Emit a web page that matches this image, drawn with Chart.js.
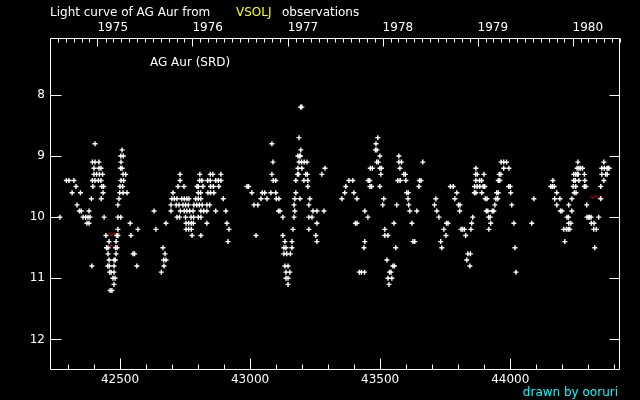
<!DOCTYPE html>
<html>
<head>
<meta charset="utf-8">
<script src="https://cdn.jsdelivr.net/npm/chart.js@4.4.0/dist/chart.umd.min.js"></script>
<style>
  html, body { margin: 0; padding: 0; background: #000; }
  #wrap { width: 640px; height: 400px; position: relative; }
</style>
</head>
<body>
<div id="wrap"><canvas id="lc"></canvas></div>
<script>
// observations: [JD - 2400000, visual magnitude]
const season1 = [
  [42404, 8.8],
  [42508, 8.9],
  [42503, 9.0], [42513, 9.0],
  [42394, 9.1], [42404, 9.1], [42419, 9.1], [42504, 9.1],
  [42400, 9.2], [42419, 9.2], [42427, 9.2], [42502, 9.2], [42508, 9.2],
  [42400, 9.3], [42410, 9.3], [42421, 9.3], [42433, 9.3], [42512, 9.3], [42522, 9.3],
  [42294, 9.4], [42304, 9.4], [42323, 9.4], [42394, 9.4], [42404, 9.4], [42417, 9.4], [42427, 9.4], [42504, 9.4], [42514, 9.4],
  [42331, 9.5], [42396, 9.5], [42430, 9.5], [42437, 9.5], [42500, 9.5], [42510, 9.5],
  [42316, 9.6], [42348, 9.6], [42435, 9.6], [42499, 9.6], [42512, 9.6], [42527, 9.6],
  [42390, 9.7], [42428, 9.7], [42496, 9.7],
  [42335, 9.8], [42492, 9.8],
  [42344, 9.9], [42351, 9.9], [42381, 9.9],
  [42269, 10.0], [42358, 10.0], [42368, 10.0], [42377, 10.0], [42385, 10.0], [42439, 10.0], [42492, 10.0], [42503, 10.0],
  [42373, 10.1], [42381, 10.1], [42539, 10.1],
  [42492, 10.2], [42569, 10.2],
  [42446, 10.3], [42488, 10.3], [42492, 10.3], [42542, 10.3],
  [42458, 10.4], [42485, 10.4],
  [42448, 10.5], [42454, 10.5], [42483, 10.5], [42489, 10.5],
  [42454, 10.6], [42485, 10.6], [42550, 10.6], [42556, 10.6],
  [42458, 10.7], [42477, 10.7], [42482, 10.7],
  [42392, 10.8], [42453, 10.8], [42459, 10.8], [42477, 10.8], [42565, 10.8],
  [42460, 10.9], [42466, 10.9], [42477, 10.9],
  [42473, 11.0], [42481, 11.0],
  [42477, 11.1],
  [42462, 11.2], [42469, 11.2]
];
const season2 = [
  [42731, 9.3], [42807, 9.3], [42847, 9.3], [42857, 9.3], [42888, 9.3],
  [42731, 9.4], [42806, 9.4], [42815, 9.4], [42837, 9.4], [42847, 9.4], [42868, 9.4], [42878, 9.4], [42888, 9.4],
  [42723, 9.5], [42746, 9.5], [42796, 9.5], [42801, 9.5], [42819, 9.5], [42848, 9.5], [42859, 9.5], [42880, 9.5],
  [42704, 9.6], [42801, 9.6], [42810, 9.6], [42838, 9.6], [42848, 9.6], [42861, 9.6],
  [42699, 9.7], [42709, 9.7], [42719, 9.7], [42737, 9.7], [42747, 9.7], [42757, 9.7], [42765, 9.7], [42791, 9.7], [42801, 9.7], [42811, 9.7], [42897, 9.7],
  [42696, 9.8], [42716, 9.8], [42727, 9.8], [42742, 9.8], [42752, 9.8], [42763, 9.8], [42784, 9.8], [42795, 9.8], [42805, 9.8], [42816, 9.8], [42834, 9.8], [42845, 9.8],
  [42631, 9.9], [42696, 9.9], [42732, 9.9], [42747, 9.9], [42757, 9.9], [42768, 9.9], [42781, 9.9], [42811, 9.9], [42822, 9.9], [42834, 9.9], [42868, 9.9], [42907, 9.9],
  [42719, 10.0], [42729, 10.0], [42752, 10.0], [42773, 10.0], [42783, 10.0], [42801, 10.0], [42811, 10.0],
  [42677, 10.1], [42754, 10.1], [42764, 10.1], [42774, 10.1], [42782, 10.1], [42834, 10.1], [42911, 10.1],
  [42638, 10.2], [42754, 10.2], [42764, 10.2], [42774, 10.2], [42919, 10.2],
  [42777, 10.3], [42811, 10.3],
  [42915, 10.4],
  [42665, 10.5],
  [42673, 10.6],
  [42668, 10.7], [42677, 10.7],
  [42669, 10.8],
  [42659, 10.9]
];
const season3 = [
  [43194, 8.2], [43199, 8.2],
  [43188, 8.7],
  [43084, 8.8],
  [43195, 8.9],
  [43184, 9.0], [43190, 9.0], [43194, 9.0],
  [43088, 9.1], [43188, 9.1], [43198, 9.1], [43208, 9.1], [43219, 9.1],
  [43184, 9.2], [43199, 9.2], [43288, 9.2],
  [43084, 9.3], [43182, 9.3], [43187, 9.3], [43214, 9.3], [43220, 9.3], [43276, 9.3],
  [43089, 9.4], [43099, 9.4], [43176, 9.4], [43207, 9.4], [43222, 9.4],
  [42988, 9.5], [42994, 9.5], [43222, 9.5],
  [43007, 9.6], [43047, 9.6], [43056, 9.6], [43080, 9.6], [43099, 9.6], [43176, 9.6],
  [43042, 9.7], [43065, 9.7], [43101, 9.7], [43111, 9.7], [43172, 9.7], [43192, 9.7], [43230, 9.7],
  [43015, 9.8], [43030, 9.8], [43169, 9.8], [43226, 9.8],
  [43109, 9.9], [43115, 9.9], [43172, 9.9], [43242, 9.9], [43257, 9.9], [43284, 9.9],
  [43126, 10.0], [43169, 10.0], [43226, 10.0], [43238, 10.0],
  [43257, 10.1],
  [43165, 10.2], [43226, 10.2],
  [43023, 10.3], [43126, 10.3], [43253, 10.3],
  [43134, 10.4], [43161, 10.4], [43257, 10.4],
  [43130, 10.5], [43138, 10.5], [43161, 10.5],
  [43130, 10.6], [43141, 10.6], [43155, 10.6],
  [43134, 10.8], [43146, 10.8],
  [43138, 10.9], [43153, 10.9],
  [43138, 11.0], [43146, 11.0],
  [43146, 11.1]
];
const season4 = [
  [43491, 8.7],
  [43484, 8.8],
  [43482, 8.9], [43488, 8.9],
  [43499, 9.0], [43572, 9.0],
  [43487, 9.1], [43493, 9.1], [43572, 9.1], [43582, 9.1], [43664, 9.1],
  [43462, 9.2], [43470, 9.2], [43499, 9.2], [43505, 9.2], [43576, 9.2],
  [43503, 9.3], [43591, 9.3], [43597, 9.3],
  [43380, 9.4], [43395, 9.4], [43454, 9.4], [43460, 9.4], [43568, 9.4], [43577, 9.4], [43599, 9.4], [43651, 9.4], [43657, 9.4],
  [43368, 9.5], [43461, 9.5], [43467, 9.5], [43499, 9.5], [43649, 9.5],
  [43364, 9.6], [43399, 9.6], [43602, 9.6], [43608, 9.6],
  [43353, 9.7], [43411, 9.7], [43514, 9.7], [43607, 9.7],
  [43510, 9.8], [43564, 9.8], [43610, 9.8], [43709, 9.8],
  [43441, 9.9], [43614, 9.9], [43641, 9.9],
  [43453, 10.0],
  [43405, 10.1], [43411, 10.1], [43553, 10.1], [43622, 10.1],
  [43518, 10.2],
  [43518, 10.3], [43530, 10.3],
  [43441, 10.4], [43626, 10.4], [43633, 10.4],
  [43438, 10.5], [43560, 10.5],
  [43526, 10.7],
  [43549, 10.8], [43555, 10.8],
  [43420, 10.9], [43428, 10.9], [43440, 10.9], [43536, 10.9], [43542, 10.9],
  [43530, 11.0], [43545, 11.0],
  [43534, 11.1]
];
const season5 = [
  [43965, 9.1], [43975, 9.1], [43986, 9.1],
  [43868, 9.2], [43975, 9.2], [43995, 9.2],
  [43867, 9.3], [43873, 9.3], [43899, 9.3], [43958, 9.3], [43964, 9.3],
  [43868, 9.4], [43882, 9.4], [43890, 9.4], [43954, 9.4], [43960, 9.4],
  [43770, 9.5], [43781, 9.5], [43863, 9.5], [43873, 9.5], [43883, 9.5], [43896, 9.5], [43902, 9.5], [43994, 9.5], [44000, 9.5],
  [43795, 9.6], [43862, 9.6], [43868, 9.6], [43891, 9.6], [43948, 9.6], [43954, 9.6], [44002, 9.6],
  [43714, 9.7], [43787, 9.7], [43904, 9.7], [43911, 9.7], [43945, 9.7], [43952, 9.7],
  [43801, 9.8], [43807, 9.8], [43941, 9.8], [44006, 9.8],
  [43718, 9.9], [43806, 9.9], [43908, 9.9], [43914, 9.9], [43931, 9.9], [43937, 9.9],
  [43726, 10.0], [43856, 10.0], [43917, 10.0], [43923, 10.0],
  [43755, 10.1], [43761, 10.1], [43852, 10.1], [43925, 10.1], [44014, 10.1],
  [43745, 10.2], [43811, 10.2], [43817, 10.2], [43824, 10.2], [43849, 10.2], [43918, 10.2],
  [43753, 10.3], [43829, 10.3],
  [43733, 10.4],
  [43737, 10.5], [44018, 10.5],
  [43837, 10.6], [43847, 10.6],
  [43833, 10.7],
  [43845, 10.8],
  [44022, 10.9]
];
const season6 = [
  [44260, 9.1], [44360, 9.1],
  [44257, 9.2], [44264, 9.2], [44270, 9.2], [44278, 9.2], [44352, 9.2], [44362, 9.2], [44372, 9.2], [44376, 9.2], [44380, 9.2],
  [44244, 9.3], [44252, 9.3], [44258, 9.3], [44262, 9.3], [44285, 9.3], [44352, 9.3], [44367, 9.3], [44373, 9.3],
  [44164, 9.4], [44244, 9.4], [44250, 9.4], [44264, 9.4], [44287, 9.4], [44360, 9.4],
  [44156, 9.5], [44162, 9.5], [44169, 9.5], [44242, 9.5], [44252, 9.5], [44285, 9.5], [44291, 9.5], [44348, 9.5],
  [44179, 9.6], [44246, 9.6], [44253, 9.6],
  [44091, 9.7], [44171, 9.7], [44191, 9.7], [44237, 9.7], [44348, 9.7],
  [44179, 9.8], [44225, 9.8], [44294, 9.8],
  [44193, 9.9], [44199, 9.9], [44237, 9.9],
  [44218, 10.0], [44224, 10.0], [44295, 10.0], [44301, 10.0], [44305, 10.0], [44311, 10.0], [44340, 10.0],
  [44083, 10.1], [44225, 10.1], [44233, 10.1], [44312, 10.1], [44322, 10.1],
  [44206, 10.2], [44216, 10.2], [44223, 10.2], [44229, 10.2], [44321, 10.2], [44331, 10.2],
  [44210, 10.4],
  [44325, 10.5]
];
// red marked estimates
const redObs = [[42477, 10.28], [42467, 10.48], [44328, 9.67]];

const jdTicks = [42500, 43000, 43500, 44000];
const magTicks = [8, 9, 10, 11, 12];
const yearLabels = ['1975', '1976', '1977', '1978', '1979', '1980'];
const yearJD = [42413.5, 42778.5, 43144.5, 43509.5, 43874.5, 44239.5];

const X_MIN = 42231, X_MAX = 44422;
const Y_MIN = 7.07, Y_MAX = 12.5;

const toXY = arr => arr.map(p => ({ x: p[0], y: p[1] }));
const allObs = [].concat(season1, season2, season3, season4, season5, season6);

// little red zigzag mark
const zig = document.createElement('canvas');
zig.width = 12; zig.height = 5;
const zc = zig.getContext('2d');
zc.strokeStyle = '#ff0000';
zc.lineWidth = 1;
zc.beginPath();
zc.moveTo(0.5, 1); zc.lineTo(3, 4); zc.lineTo(6, 1); zc.lineTo(9, 4); zc.lineTo(11.5, 1);
zc.stroke();

const font12 = { family: 'DejaVu Sans', size: 12 };

function jdOfMonth(y, m) {
  return Date.UTC(y, m, 1) / 86400000 + 40587.5;
}

const frameAndText = {
  id: 'frameAndText',
  afterDraw(chart) {
    const { ctx, chartArea: a, scales } = chart;
    const xs = scales.x, ys = scales.y;
    const L = Math.round(a.left) + 0.5, R = Math.round(a.right) - 0.5;
    const T = Math.round(a.top) + 0.5, B = Math.round(a.bottom) - 0.5;
    ctx.save();
    ctx.strokeStyle = '#fff';
    ctx.lineWidth = 1;
    ctx.beginPath();
    ctx.rect(L, T, R - L, B - T);
    // bottom JD ticks every 100 days
    for (let v = Math.ceil(X_MIN / 100) * 100; v <= X_MAX; v += 100) {
      const px = Math.round(xs.getPixelForValue(v)) + 0.5;
      const len = v % 500 === 0 ? 11 : 5;
      ctx.moveTo(px, B); ctx.lineTo(px, B - len);
    }
    // top month / year ticks
    for (let yr = 1974; yr <= 1981; yr++) {
      for (let m = 0; m < 12; m++) {
        const jd = jdOfMonth(yr, m);
        if (jd < X_MIN || jd > X_MAX) continue;
        const px = Math.round(xs.getPixelForValue(jd)) + 0.5;
        const len = m === 0 ? 8 : 4;
        ctx.moveTo(px, T); ctx.lineTo(px, T + len);
      }
    }
    // magnitude ticks both sides
    magTicks.forEach(v => {
      const py = Math.round(ys.getPixelForValue(v)) + 0.5;
      ctx.moveTo(L, py); ctx.lineTo(L + 11, py);
      ctx.moveTo(R, py); ctx.lineTo(R - 10, py);
    });
    ctx.stroke();

    ctx.font = '12px "DejaVu Sans"';
    ctx.textBaseline = 'alphabetic';
    ctx.textAlign = 'left';
    ctx.fillStyle = '#fff';
    ctx.fillText('Light curve of AG Aur from', 50, 16);
    ctx.fillStyle = '#ffff00';
    ctx.fillText('VSOLJ', 236, 16);
    ctx.fillStyle = '#fff';
    ctx.fillText('observations', 282, 16);
    ctx.fillText('AG Aur (SRD)', 150, 66);
    ctx.fillStyle = '#00ffff';
    ctx.textAlign = 'right';
    ctx.fillText('drawn by ooruri', 618, 396);
    ctx.restore();
  }
};

new Chart(document.getElementById('lc'), {
  type: 'scatter',
  data: {
    datasets: [
      {
        data: toXY(allObs),
        pointStyle: 'cross',
        radius: 2.5,
        borderColor: '#fff',
        backgroundColor: '#fff',
        borderWidth: 1.4
      },
      {
        data: toXY(redObs),
        pointStyle: zig,
        radius: 5,
        borderColor: '#f00'
      }
    ]
  },
  options: {
    responsive: true,
    maintainAspectRatio: false,
    animation: false,
    events: [],
    layout: { padding: 0 },
    plugins: { legend: { display: false }, tooltip: { enabled: false } },
    scales: {
      x: {
        type: 'linear', position: 'bottom', min: X_MIN, max: X_MAX,
        grid: { display: false, drawTicks: false }, border: { display: false },
        afterBuildTicks: s => { s.ticks = jdTicks.map(v => ({ value: v })); },
        afterFit: s => { s.height = 30; },
        ticks: { color: '#fff', font: font12, padding: 3, maxRotation: 0, autoSkip: false,
          callback: v => String(v) }
      },
      xTop: {
        type: 'linear', position: 'top', min: X_MIN, max: X_MAX,
        grid: { display: false, drawTicks: false }, border: { display: false },
        afterBuildTicks: s => { s.ticks = yearJD.map(v => ({ value: v })); },
        afterFit: s => { s.height = 38; },
        ticks: { color: '#fff', font: font12, padding: 3, align: 'start', maxRotation: 0, autoSkip: false,
          callback: (v, i) => yearLabels[i] }
      },
      y: {
        type: 'linear', position: 'left', reverse: true, min: Y_MIN, max: Y_MAX,
        grid: { display: false, drawTicks: false }, border: { display: false },
        afterBuildTicks: s => { s.ticks = magTicks.map(v => ({ value: v })); },
        afterFit: s => { s.width = 50; },
        ticks: { color: '#fff', font: font12, padding: 5, autoSkip: false }
      },
      yRight: {
        type: 'linear', position: 'right', reverse: true, min: Y_MIN, max: Y_MAX,
        grid: { display: false, drawTicks: false }, border: { display: false },
        afterFit: s => { s.width = 20; },
        ticks: { display: false }
      }
    }
  },
  plugins: [frameAndText]
});
</script>
</body>
</html>
